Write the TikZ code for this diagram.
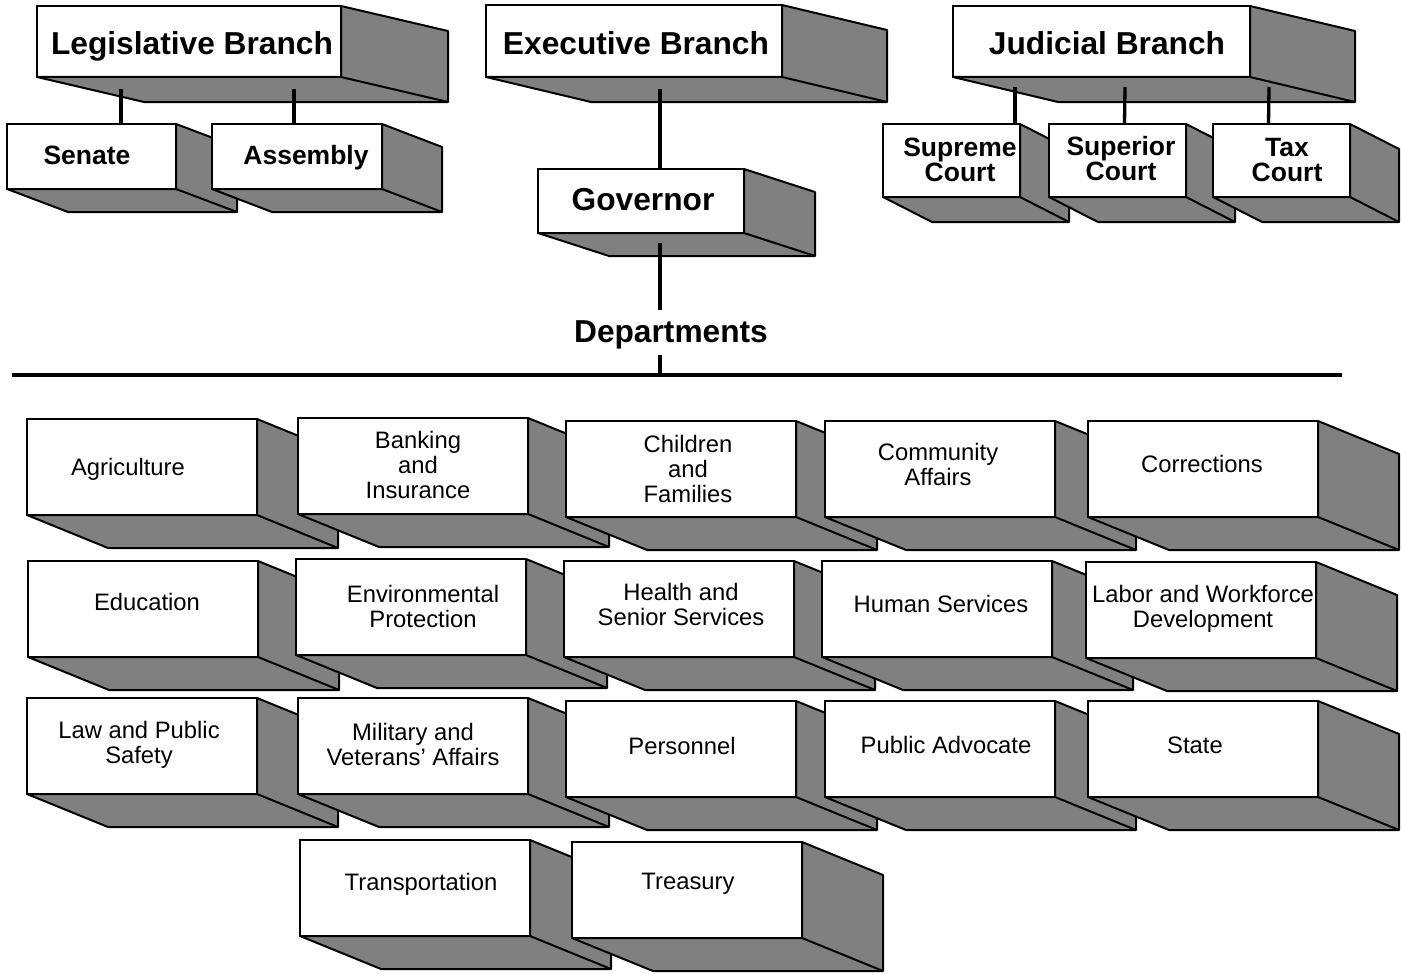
\documentclass[tikz,border=0pt]{standalone}
\usepackage{fontspec}
\setmainfont{Liberation Sans}
\usetikzlibrary{positioning}
\definecolor{slabgray}{RGB}{128,128,128}
\tikzset{slab/.style={draw,line width=2pt,fill=white,inner sep=0pt,outer sep=0pt,anchor=north west},
         shade/.style={draw,line width=2pt,fill=slabgray,line join=round},
         link/.style={line width=3.3pt},
         branch/.style={font=\fontsize{31.7}{32}\selectfont\bfseries,inner sep=0pt,text depth=0pt},
         office/.style={font=\fontsize{26.5}{25}\selectfont\bfseries,align=center,inner sep=0pt,text depth=0pt},
         dept/.style={font=\fontsize{23.8}{25}\selectfont,align=center,inner sep=0pt,text depth=0pt},
        }

\begin{document}
\begin{tikzpicture}[x=1pt,y=-1pt]
        \useasboundingbox (0,0) rectangle (1401,974);

        % branches
        \node[slab,minimum width=304pt,minimum height=71pt](leg)at(37,6){};
        \draw[shade](leg.south west)--++(107,25)--++(304,0)--++(0,-71)--(leg.north east)--(leg.south east)--cycle;
        \draw[shade](leg.south east)--++(107,25);
        \node[branch](leg-t)at(192,43){Legislative Branch};

        \node[slab,minimum width=296pt,minimum height=72pt](exe)at(486,5){};
        \draw[shade](exe.south west)--++(105,25)--++(296,0)--++(0,-72)--(exe.north east)--(exe.south east)--cycle;
        \draw[shade](exe.south east)--++(105,25);
        \node[branch](exe-t)at(636,43){Executive Branch};

        \node[slab,minimum width=297pt,minimum height=71pt](jud)at(953,6){};
        \draw[shade](jud.south west)--++(105,25)--++(297,0)--++(0,-71)--(jud.north east)--(jud.south east)--cycle;
        \draw[shade](jud.south east)--++(105,25);
        \node[branch](jud-t)at(1107,43){Judicial Branch};

        % offices
        \node[slab,minimum width=169pt,minimum height=65pt](sen)at(7,124){};
        \draw[shade](sen.south west)--++(61,23)--++(169,0)--++(0,-65)--(sen.north east)--(sen.south east)--cycle;
        \draw[shade](sen.south east)--++(61,23);
        \node[office](sen-t)at(87,155){Senate};

        \node[slab,minimum width=170pt,minimum height=65pt](asm)at(212,124){};
        \draw[shade](asm.south west)--++(60,23)--++(170,0)--++(0,-65)--(asm.north east)--(asm.south east)--cycle;
        \draw[shade](asm.south east)--++(60,23);
        \node[office](asm-t)at(306,155){Assembly};

        \node[slab,minimum width=206pt,minimum height=64pt](gov)at(538,169){};
        \draw[shade](gov.south west)--++(71,23)--++(206,0)--++(0,-64)--(gov.north east)--(gov.south east)--cycle;
        \draw[shade](gov.south east)--++(71,23);
        \node[branch](gov-t)at(643,199){Governor};

        \foreach \n/\x/\t/\tx/\ty in {sup/883/{Supreme\\Court}/960/160,
                                      supr/1049/{Superior\\Court}/1121/158,
                                      tax/1213/{Tax\\Court}/1287/160}{
          \node[slab,minimum width=137pt,minimum height=73pt](\n)at(\x,124){};
          \draw[shade](\n.south west)--++(49,25)--++(137,0)--++(0,-73)--(\n.north east)--(\n.south east)--cycle;
          \draw[shade](\n.south east)--++(49,25);
          \node[office](\n-t)at(\tx,\ty){\t};
        }

        \draw[link]([xshift=-68pt,yshift=-12pt]leg.south)--([xshift=29.5pt]sen.north);
        \draw[link]([xshift=105pt,yshift=-12pt]leg.south)--([xshift=-3pt]asm.north);
        \draw[link]([xshift=26pt,yshift=-12pt]exe.south)--([xshift=19pt]gov.north);
        \draw[link]([xshift=-86.5pt,yshift=-10pt]jud.south)--([xshift=63.5pt]sup.north);
        \draw[link]([xshift=23.5pt,yshift=-10pt]jud.south)--([xshift=7pt]supr.north);
        \draw[link]([xshift=167.5pt,yshift=-10pt]jud.south)--([xshift=-13pt]tax.north);

        % departments
        \node[branch](dep)at(671,332){Departments};
        \coordinate(rl)at(12,375);
        \coordinate(rr)at(1342,375);
        \coordinate(tick)at(660,375);
        \draw[link]([xshift=19pt,yshift=-10pt]gov.south)--([xshift=-11pt,yshift=22pt]dep.center);
        \draw[link]([xshift=-11pt,yshift=-23pt]dep.center)--(tick);
        \draw[link](rl)--(rr);

        \foreach \n/\x/\y/\t/\tx/\ty in {
            agr/27/419/{Agriculture}/128/467,
            bank/298/418/{Banking\\and\\Insurance}/418/465,
            child/566/421/{Children\\and\\Families}/688/469,
            comm/825/421/{Community\\Affairs}/938/464,
            corr/1088/421/{Corrections}/1202/464,
            edu/28/561/{Education}/147/602,
            env/296/559/{Environmental\\Protection}/423/606,
            hlth/564/561/{Health and\\Senior Services}/681/604,
            hum/822/561/{Human Services}/941/604,
            lab/1086/562/{Labor and Workforce\\Development}/1203/606,
            law/27/698/{Law and Public\\Safety}/139/742,
            mil/298/698/{Military and\\Veterans' Affairs}/413/744,
            pers/566/701/{Personnel}/682/746,
            pub/825/701/{Public Advocate}/946/745,
            state/1088/701/{State}/1195/745,
            trans/300/840/{Transportation}/421/882,
            treas/572/842/{Treasury}/688/881}{
          \node[slab,minimum width=230pt,minimum height=96pt](\n)at(\x,\y){};
          \draw[shade](\n.south west)--++(81,33)--++(230,0)--++(0,-96)--(\n.north east)--(\n.south east)--cycle;
          \draw[shade](\n.south east)--++(81,33);
          \node[dept](\n-t)at(\tx,\ty){\t};
        }
    \end{tikzpicture}
\end{document}
